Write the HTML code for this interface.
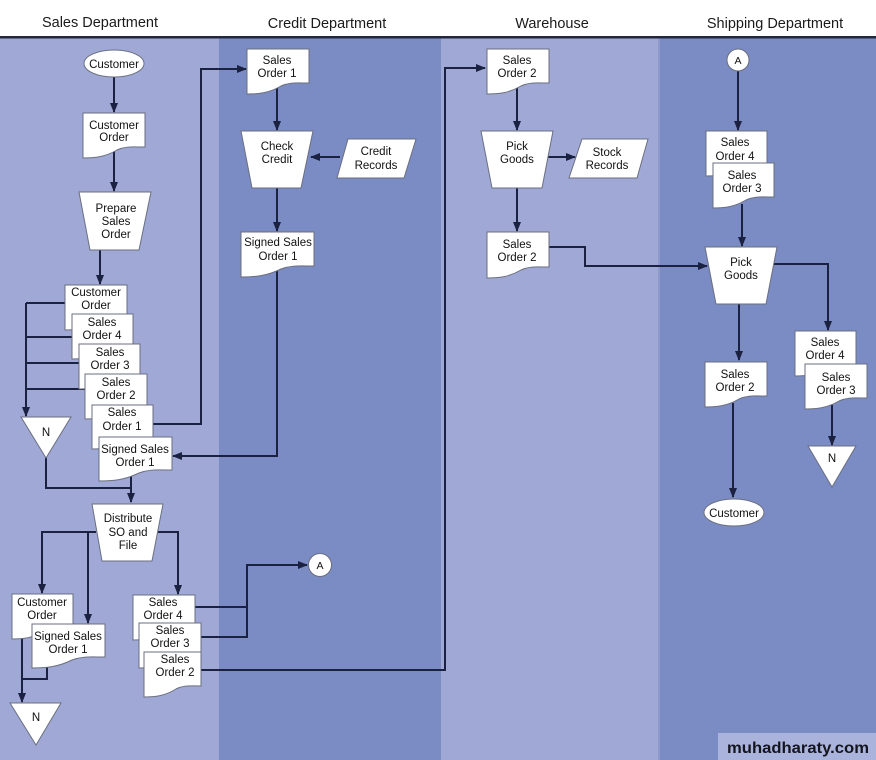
<!DOCTYPE html>
<html><head><meta charset="utf-8"><style>
html,body{margin:0;padding:0;background:#fff;}
svg{display:block;}
text{font-family:"Liberation Sans",Arial,sans-serif;fill:#111;}
.t{font-size:11.5px;text-anchor:middle;}
.h{font-size:14.5px;text-anchor:middle;fill:#1a1a1a;}
.s{fill:#fff;stroke:#6a6f80;stroke-width:1;}
.c{fill:none;stroke:#1b2140;stroke-width:2;}
</style></head><body>
<svg width="876" height="760" viewBox="0 0 876 760" xmlns="http://www.w3.org/2000/svg">
<defs>
<marker id="ar" markerUnits="userSpaceOnUse" markerWidth="10" markerHeight="8" refX="9" refY="4" orient="auto">
<path d="M0,0 L10,4 L0,8 z" fill="#1b2140"/>
</marker>
</defs>
<rect x="0" y="0" width="876" height="760" fill="#fff"/>
<!-- lanes -->
<rect x="0" y="38" width="219" height="722" fill="#a0a9d6"/>
<rect x="219" y="38" width="222" height="722" fill="#7b8bc3"/>
<rect x="441" y="38" width="219" height="722" fill="#a0a9d6"/>
<rect x="658" y="38" width="2" height="722" fill="#8d9acb"/>
<rect x="660" y="38" width="216" height="722" fill="#7b8bc3"/>
<rect x="0" y="36" width="876" height="2.5" fill="#22283d"/>
<!-- headers -->
<text class="h" x="100" y="27">Sales Department</text>
<text class="h" x="327" y="28">Credit Department</text>
<text class="h" x="552" y="28">Warehouse</text>
<text class="h" x="775" y="28">Shipping Department</text>

<!-- connectors -->
<g class="c">
<path d="M114,77 V112" marker-end="url(#ar)"/>
<path d="M114,150 V191" marker-end="url(#ar)"/>
<path d="M100,250 V284" marker-end="url(#ar)"/>
<path d="M26,303 V416" marker-end="url(#ar)"/>
<path d="M26,303 H65 M26,337 H72 M26,363 H79 M26,389 H85"/>
<path d="M46,456 V488 H131"/>
<path d="M131,476 V502" marker-end="url(#ar)"/>
<path d="M153,424 H201 V69 H246" marker-end="url(#ar)"/>
<path d="M277,88 V130" marker-end="url(#ar)"/>
<path d="M340,157 H311" marker-end="url(#ar)"/>
<path d="M277,188 V231" marker-end="url(#ar)"/>
<path d="M277,270 V456 H173" marker-end="url(#ar)"/>
<path d="M96,532 H42 V593" marker-end="url(#ar)"/>
<path d="M88,532 V623" marker-end="url(#ar)"/>
<path d="M158,532 H178 V594" marker-end="url(#ar)"/>
<path d="M22,636 V702" marker-end="url(#ar)"/>
<path d="M47,664 V679 H22"/>
<path d="M195,607 H247 M201,637 H247 V565 H307" />
<path d="M290,565 H307" marker-end="url(#ar)"/>
<path d="M201,670 H445 V68 H485" marker-end="url(#ar)"/>
<path d="M517,88 V130" marker-end="url(#ar)"/>
<path d="M548,157 H575" marker-end="url(#ar)"/>
<path d="M517,188 V231" marker-end="url(#ar)"/>
<path d="M549,247 H585 V266 H707" marker-end="url(#ar)"/>
<path d="M738,71 V130" marker-end="url(#ar)"/>
<path d="M742,204 V246" marker-end="url(#ar)"/>
<path d="M772,264 H828 V330" marker-end="url(#ar)"/>
<path d="M739,304 V360" marker-end="url(#ar)"/>
<path d="M733,403 V497" marker-end="url(#ar)"/>
<path d="M832,405 V445" marker-end="url(#ar)"/>
</g>

<!-- Sales department top -->
<ellipse class="s" cx="114" cy="63.5" rx="30" ry="13.5"/>
<text class="t" x="114" y="68">Customer</text>

<path class="s" d="M83,113 H145 V147 C132,147 126,146 117,150 C105,157 95,158 83,158 Z"/>
<text class="t" x="114" y="129">Customer</text>
<text class="t" x="114" y="141">Order</text>

<path class="s" d="M79,192 H151 L139,250 H90 Z"/>
<text class="t" x="116" y="212">Prepare</text>
<text class="t" x="116" y="225">Sales</text>
<text class="t" x="116" y="238">Order</text>

<!-- stack -->
<path class="s" d="M65,285 H127 V319 C114,319 108,318 99,322 C87,329 77,330 65,330 Z"/>
<text class="t" x="96" y="296">Customer</text>
<text class="t" x="96" y="309">Order</text>
<path class="s" d="M72,314 H133 V348 C120,348 114,347 105,351 C93,358 84,359 72,359 Z"/>
<text class="t" x="102" y="326">Sales</text>
<text class="t" x="102" y="339">Order 4</text>
<path class="s" d="M79,344 H140 V378 C127,378 121,377 112,381 C100,388 91,389 79,389 Z"/>
<text class="t" x="110" y="356">Sales</text>
<text class="t" x="110" y="369">Order 3</text>
<path class="s" d="M85,374 H147 V408 C134,408 128,407 119,411 C107,418 97,419 85,419 Z"/>
<text class="t" x="116" y="386">Sales</text>
<text class="t" x="116" y="399">Order 2</text>
<path class="s" d="M92,405 H153 V438 C140,438 134,437 125,441 C113,448 104,449 92,449 Z"/>
<text class="t" x="122" y="416">Sales</text>
<text class="t" x="122" y="430">Order 1</text>
<path class="s" d="M99,437 H172 V470 C157,470 150,469 139,473 C125,480 113,481 99,481 Z"/>
<text class="t" x="135" y="453">Signed Sales</text>
<text class="t" x="135" y="466">Order 1</text>

<path class="s" d="M21,417 H71 L46,458 Z"/>
<text class="t" x="46" y="436">N</text>

<!-- Distribute -->
<path class="s" d="M92,504 H163 L152,561 H102 Z"/>
<text class="t" x="128" y="522">Distribute</text>
<text class="t" x="128" y="536">SO and</text>
<text class="t" x="128" y="549">File</text>

<path class="s" d="M12,594 H73 V628 C60,628 54,627 45,631 C33,638 24,639 12,639 Z"/>
<text class="t" x="42" y="606">Customer</text>
<text class="t" x="42" y="619">Order</text>
<path class="s" d="M32,624 H105 V657 C90,657 83,656 72,660 C58,667 46,668 32,668 Z"/>
<text class="t" x="68" y="640">Signed Sales</text>
<text class="t" x="68" y="653">Order 1</text>

<path class="s" d="M10,703 H61 L36,745 Z"/>
<text class="t" x="36" y="721">N</text>

<path class="s" d="M133,595 H195 V629 C182,629 176,628 167,632 C155,639 145,640 133,640 Z"/>
<text class="t" x="163" y="606">Sales</text>
<text class="t" x="163" y="619">Order 4</text>
<path class="s" d="M139,623 H201 V657 C188,657 182,656 173,660 C161,667 151,668 139,668 Z"/>
<text class="t" x="170" y="634">Sales</text>
<text class="t" x="170" y="647">Order 3</text>
<path class="s" d="M144,652 H201 V686 C189,686 184,685 176,689 C165,696 155,697 144,697 Z"/>
<text class="t" x="175" y="663">Sales</text>
<text class="t" x="175" y="676">Order 2</text>

<!-- Credit -->
<path class="s" d="M247,49 H309 V83 C296,83 290,82 281,86 C269,93 259,94 247,94 Z"/>
<text class="t" x="277" y="64">Sales</text>
<text class="t" x="277" y="77">Order 1</text>
<path class="s" d="M241,131 H313 L301,188 H252 Z"/>
<text class="t" x="277" y="150">Check</text>
<text class="t" x="277" y="163">Credit</text>
<path class="s" d="M348,139 H416 L404,178 H337 Z"/>
<text class="t" x="376" y="155">Credit</text>
<text class="t" x="376" y="169">Records</text>
<path class="s" d="M241,232 H314 V266 C299,266 292,265 281,269 C267,276 255,277 241,277 Z"/>
<text class="t" x="278" y="246">Signed Sales</text>
<text class="t" x="278" y="260">Order 1</text>
<circle class="s" cx="320" cy="565" r="11.5"/>
<text class="t" x="320" y="569" style="font-size:10.5px">A</text>

<!-- Warehouse -->
<path class="s" d="M487,49 H549 V83 C536,83 530,82 521,86 C509,93 499,94 487,94 Z"/>
<text class="t" x="517" y="64">Sales</text>
<text class="t" x="517" y="77">Order 2</text>
<path class="s" d="M481,131 H553 L542,188 H492 Z"/>
<text class="t" x="517" y="150">Pick</text>
<text class="t" x="517" y="163">Goods</text>
<path class="s" d="M582,139 H648 L637,178 H569 Z"/>
<text class="t" x="607" y="156">Stock</text>
<text class="t" x="607" y="169">Records</text>
<path class="s" d="M487,232 H549 V267 C536,267 530,266 521,270 C509,277 499,278 487,278 Z"/>
<text class="t" x="517" y="248">Sales</text>
<text class="t" x="517" y="261">Order 2</text>

<!-- Shipping -->
<circle class="s" cx="738" cy="60" r="11"/>
<text class="t" x="738" y="64" style="font-size:10.5px">A</text>
<path class="s" d="M706,131 H767 V165 C754,165 748,164 739,168 C727,175 718,176 706,176 Z"/>
<text class="t" x="735" y="146">Sales</text>
<text class="t" x="735" y="160">Order 4</text>
<path class="s" d="M713,163 H774 V197 C761,197 755,196 746,200 C734,207 725,208 713,208 Z"/>
<text class="t" x="742" y="179">Sales</text>
<text class="t" x="742" y="192">Order 3</text>
<path class="s" d="M705,247 H777 L766,304 H716 Z"/>
<text class="t" x="741" y="266">Pick</text>
<text class="t" x="741" y="279">Goods</text>
<path class="s" d="M705,362 H767 V396 C754,396 748,395 739,399 C727,406 717,407 705,407 Z"/>
<text class="t" x="735" y="378">Sales</text>
<text class="t" x="735" y="391">Order 2</text>
<ellipse class="s" cx="734" cy="512.5" rx="30" ry="13.5"/>
<text class="t" x="734" y="517">Customer</text>
<path class="s" d="M795,331 H856 V365 C843,365 837,364 828,368 C816,375 807,376 795,376 Z"/>
<text class="t" x="825" y="346">Sales</text>
<text class="t" x="825" y="359">Order 4</text>
<path class="s" d="M805,364 H867 V398 C854,398 848,397 839,401 C827,408 817,409 805,409 Z"/>
<text class="t" x="836" y="381">Sales</text>
<text class="t" x="836" y="394">Order 3</text>
<path class="s" d="M808,446 H856 L832,487 Z"/>
<text class="t" x="832" y="462">N</text>

<!-- watermark -->
<rect x="718" y="733" width="158" height="27" fill="#a9b3dc"/>
<text x="727" y="753" textLength="142" lengthAdjust="spacingAndGlyphs" style="font-size:15.5px;font-weight:bold;fill:#15151f">muhadharaty.com</text>
</svg>
</body></html>
